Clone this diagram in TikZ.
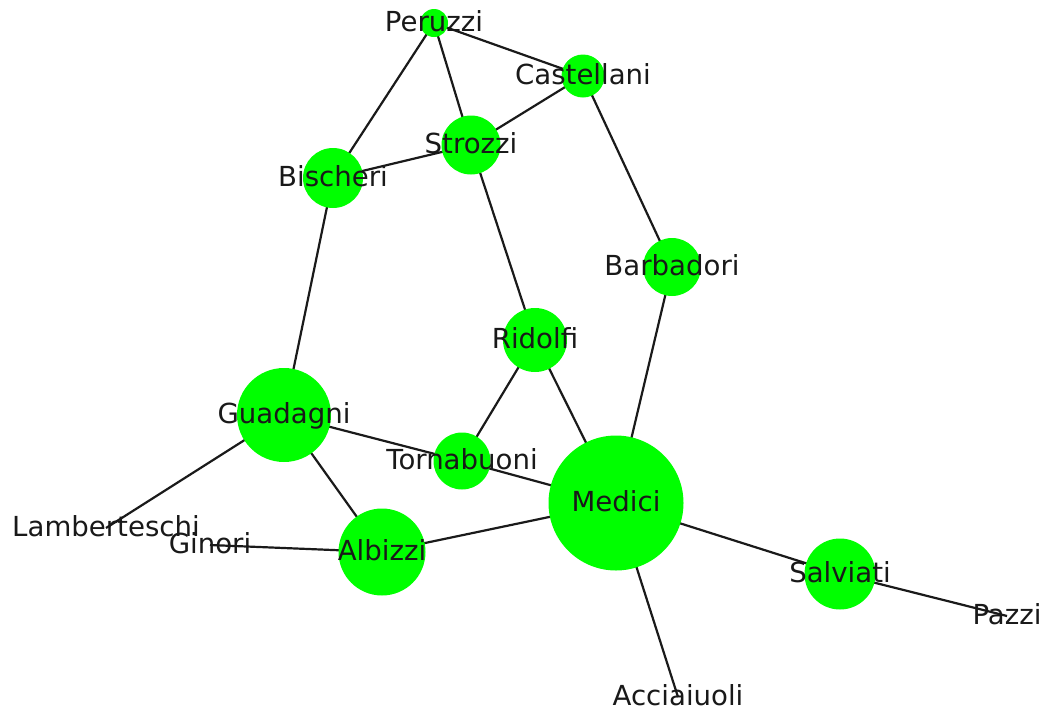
\documentclass[tikz,border=0pt]{standalone}
\usepackage{fontspec}
\setmainfont{DejaVu Sans}
\definecolor{nodegreen}{HTML}{00FF00}
\definecolor{edgecol}{HTML}{1A1A1A}
\begin{document}
\begin{tikzpicture}[x=1pt,y=-1pt,
  fam/.style={circle,fill=nodegreen,draw=none,inner sep=0pt,minimum size=#1},
  lbl/.style={inner sep=0pt,font=\fontsize{27.6}{32}\selectfont,text=black!90,
    text height=20pt,text depth=6.4pt,anchor=center,yshift=-2pt},
  edge/.style={draw=edgecol,line width=2.2pt}]
\useasboundingbox (0,0) rectangle (1047,713);
% positions
\coordinate (Peruzzi) at (434,23);
\coordinate (Castellani) at (583,76);
\coordinate (Strozzi) at (471,145);
\coordinate (Bischeri) at (333,178);
\coordinate (Barbadori) at (672,267);
\coordinate (Ridolfi) at (535,340);
\coordinate (Guadagni) at (284,415);
\coordinate (Tornabuoni) at (462,461);
\coordinate (Medici) at (616,503);
\coordinate (Albizzi) at (382,552);
\coordinate (Salviati) at (840,574);
\coordinate (Lamberteschi) at (106,528);
\coordinate (Ginori) at (210,545);
\coordinate (Pazzi) at (1007,616);
\coordinate (Acciaiuoli) at (678,697);
% edges
\draw[edge] (Peruzzi) -- (Castellani);
\draw[edge] (Peruzzi) -- (Bischeri);
\draw[edge] (Peruzzi) -- (Strozzi);
\draw[edge] (Castellani) -- (Strozzi);
\draw[edge] (Castellani) -- (Barbadori);
\draw[edge] (Strozzi) -- (Bischeri);
\draw[edge] (Strozzi) -- (Ridolfi);
\draw[edge] (Bischeri) -- (Guadagni);
\draw[edge] (Barbadori) -- (Medici);
\draw[edge] (Ridolfi) -- (Medici);
\draw[edge] (Ridolfi) -- (Tornabuoni);
\draw[edge] (Guadagni) -- (Tornabuoni);
\draw[edge] (Tornabuoni) -- (Medici);
\draw[edge] (Guadagni) -- (Lamberteschi);
\draw[edge] (Guadagni) -- (Albizzi);
\draw[edge] (Albizzi) -- (Ginori);
\draw[edge] (Albizzi) -- (Medici);
\draw[edge] (Medici) -- (Salviati);
\draw[edge] (Salviati) -- (Pazzi);
\draw[edge] (Medici) -- (Acciaiuoli);
% node discs
\node[fam=28pt] (Peruzzi-c) at (Peruzzi) {};
\node[fam=43pt] (Castellani-c) at (Castellani) {};
\node[fam=59pt] (Strozzi-c) at (Strozzi) {};
\node[fam=60pt] (Bischeri-c) at (Bischeri) {};
\node[fam=58pt] (Barbadori-c) at (Barbadori) {};
\node[fam=64pt] (Ridolfi-c) at (Ridolfi) {};
\node[fam=94pt] (Guadagni-c) at (Guadagni) {};
\node[fam=57pt] (Tornabuoni-c) at (Tornabuoni) {};
\node[fam=135pt] (Medici-c) at (Medici) {};
\node[fam=87pt] (Albizzi-c) at (Albizzi) {};
\node[fam=71pt] (Salviati-c) at (Salviati) {};
% labels
\node[lbl] (Peruzzi-l) at (Peruzzi) {Peruzzi};
\node[lbl] (Castellani-l) at (Castellani) {Castellani};
\node[lbl] (Strozzi-l) at (Strozzi) {Strozzi};
\node[lbl] (Bischeri-l) at (Bischeri) {Bischeri};
\node[lbl] (Barbadori-l) at (Barbadori) {Barbadori};
\node[lbl] (Ridolfi-l) at (Ridolfi) {Ridolfi};
\node[lbl] (Guadagni-l) at (Guadagni) {Guadagni};
\node[lbl] (Tornabuoni-l) at (Tornabuoni) {Tornabuoni};
\node[lbl] (Medici-l) at (Medici) {Medici};
\node[lbl] (Albizzi-l) at (Albizzi) {Albizzi};
\node[lbl] (Salviati-l) at (Salviati) {Salviati};
\node[lbl] (Lamberteschi-l) at (Lamberteschi) {Lamberteschi};
\node[lbl] (Ginori-l) at (Ginori) {Ginori};
\node[lbl] (Pazzi-l) at (Pazzi) {Pazzi};
\node[lbl] (Acciaiuoli-l) at (Acciaiuoli) {Acciaiuoli};
\end{tikzpicture}
\end{document}
